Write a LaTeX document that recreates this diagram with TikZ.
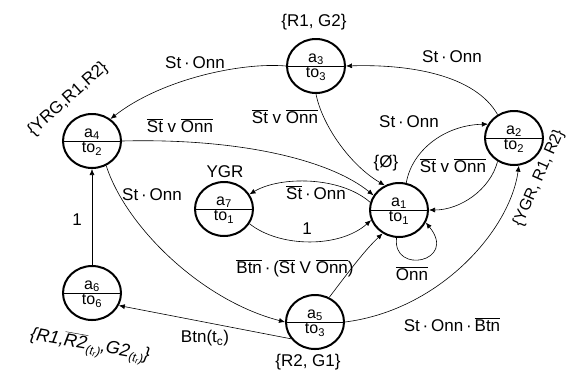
\documentclass[tikz,border=0pt]{standalone}
\usepackage{fontspec}
\setmainfont{Liberation Sans}
\usetikzlibrary{shapes.geometric,arrows.meta}
\newcommand\ovl[1]{$\overline{\hbox{#1}}$}
\newcommand\tsub{\raisebox{-4pt}{\fontsize{12}{12}\selectfont(t\textsubscript{r})}}
\newcommand\mystate[4]{%
  \node[st] (#1) at #2 {};
  \draw[divl] (#1.west) -- (#1.east);
  \node[intext,above=1pt] (#1t) at (#1.center) {#3};
  \node[intext,below=1pt] (#1b) at (#1.center) {#4};}
\begin{document}
\begin{tikzpicture}[x=1pt,y=-1pt,
  st/.style={ellipse,draw,line width=2pt,minimum width=58pt,minimum height=54pt,inner sep=0pt},
  divl/.style={line width=0.8pt},
  tr/.style={-{Latex[length=6pt,width=5pt]},line width=0.6pt},
  lb/.style={font=\fontsize{17}{19}\selectfont,inner sep=1pt},
  intext/.style={font=\fontsize{16}{18}\selectfont,inner sep=0pt}]
\useasboundingbox (0,0) rectangle (569,376);
\mystate{a3}{(316,66)}{a\textsubscript{3}}{to\textsubscript{3}}
\mystate{a4}{(92,141)}{a\textsubscript{4}}{to\textsubscript{2}}
\mystate{a2}{(514,138)}{a\textsubscript{2}}{to\textsubscript{2}}
\mystate{a7}{(224,209)}{a\textsubscript{7}}{to\textsubscript{1}}
\mystate{a1}{(399,210)}{a\textsubscript{1}}{to\textsubscript{1}}
\mystate{a6}{(92,293)}{a\textsubscript{6}}{to\textsubscript{6}}
\mystate{a5}{(315,322)}{a\textsubscript{5}}{to\textsubscript{3}}
\draw[tr] (a3.west) .. controls (240,62) and (160,80) .. (a4.50);
\draw[tr] (a2.125) .. controls (475,75) and (410,64) .. (a3.east);
\draw[tr] (a4.east) .. controls (240,138) and (330,160) .. (a1.150);
\draw[tr] (a3.south) .. controls (322,125) and (350,165) .. (a1.120);
\draw[tr] (a1.75) .. controls (412,150) and (445,125) .. (a2.152);
\draw[tr] (a2.235) .. controls (490,190) and (460,210) .. (a1.east);
\draw[tr] (a1.165) .. controls (340,176) and (280,176) .. (a7.30);
\draw[tr] (a7.-30) .. controls (280,248) and (340,248) .. (a1.200);
\draw[tr] (a1.265) .. controls (392,275) and (458,262) .. (a1.-25);
\draw[tr] (a4.-60) .. controls (125,225) and (200,300) .. (a5.west);
\draw[tr] (a6.north) -- (a4.south);
\draw[tr] (a5.215) -- (a6.-25);
\draw[tr] (a5.60) .. controls (350,270) and (365,250) .. (a1.235);
\draw[tr] (a5.east) .. controls (440,310) and (510,230) .. (a2.-80);
\node[lb] (l1) at (195,63) {St\,·\,Onn};
\node[lb] (l2) at (452,57) {St\,·\,Onn};
\node[lb] (l3) at (180,126) {\ovl{St} v \ovl{Onn}};
\node[lb] (l4) at (285,117) {\ovl{St} v \ovl{Onn}};
\node[lb] (l5) at (409,122) {St\,·\,Onn};
\node[lb] (l6) at (453,166) {\ovl{St} v \ovl{Onn}};
\node[lb] (l7) at (316,193) {\ovl{St}\,·\,Onn};
\node[lb] (l8) at (307,229) {1};
\node[lb] (l9) at (412,274) {\ovl{Onn}};
\node[lb] (l10) at (152,195) {St\,·\,Onn};
\node[lb] (l11) at (77,220) {1};
\node[lb] (l12) at (205,338) {Btn(t\textsubscript{c})};
\node[lb] (l13) at (295,268) {\ovl{Btn}\,·\,(\ovl{St} V \ovl{Onn})};
\node[lb] (l14) at (452,325) {St\,·\,Onn\,·\,\ovl{Btn}};
\node[lb] (s3) at (314,22) {\{R1, G2\}};
\node[lb,rotate=42] (s4) at (68,99) {\{YRG,R1,R2\}};
\node[lb,rotate=66,font=\fontsize{16}{18}\selectfont] (s2) at (539,178) {\{YGR, R1, R2\}};
\node[lb] (s1) at (386,163) {\{Ø\}};
\node[lb] (s7) at (225,172) {YGR};
\node[lb] (s5) at (308,362) {\{R2, G1\}};
\node[lb,rotate=-10,font=\fontsize{18}{20}\selectfont] (s6) at (90,346) {\itshape\{R1,\ovl{R2}\tsub,G2\tsub\}};
\end{tikzpicture}
\end{document}
